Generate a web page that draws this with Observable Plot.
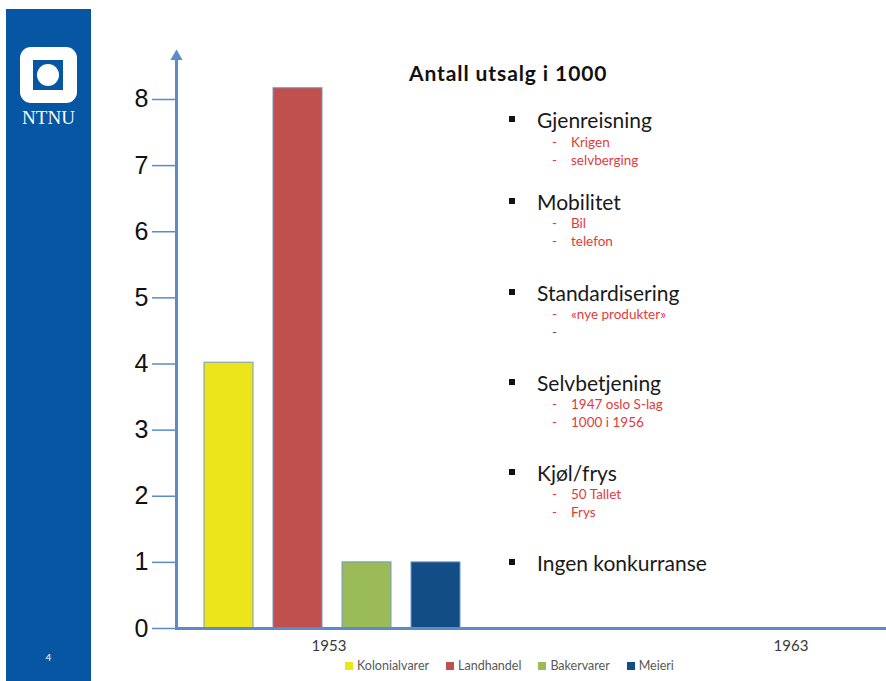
<!DOCTYPE html>
<html><head><meta charset="utf-8">
<script src="https://cdn.jsdelivr.net/npm/d3@7"></script>
<script src="https://cdn.jsdelivr.net/npm/@observablehq/plot@0.6"></script>
<style>
html,body{margin:0;padding:0;background:#fff;width:886px;height:681px;overflow:hidden;}
#root{position:relative;width:886px;height:681px;font-family:Lato,sans-serif;}
.abs{position:absolute;white-space:nowrap;line-height:1;}
.vc{transform:translateY(-50%);}
#chart{position:absolute;left:0;top:0;}
#legend{position:absolute;left:345px;top:649px;}
.lg-swatch{margin-right:17px !important;}
.lg-swatch svg{margin-right:4px !important;}
</style></head><body><div id="root"></div>
<script>
// ---- data ----
const years = ["1953", "1963"];
const series = ["Kolonialvarer", "Landhandel", "Bakervarer", "Meieri"];
const values1953 = [4.02, 8.17, 1.0, 1.0];
const seriesColors = ["#ebe519", "#c0504d", "#9bbb59", "#134d85"];
const yTicks = [0, 1, 2, 3, 4, 5, 6, 7, 8];
const chartTitle = "Antall utsalg i 1000";
const bulletHeads = ["Gjenreisning", "Mobilitet", "Standardisering", "Selvbetjening", "Kjøl/frys", "Ingen konkurranse"];
const bulletSubs = [["Krigen", "selvberging"], ["Bil", "telefon"], ["«nye produkter»", ""], ["1947 oslo S-lag", "1000 i 1956"], ["50 Tallet", "Frys"], []];
const pageNumber = "4";
const logoText = "NTNU";

const rows = series.map((s, i) => ({year: years[0], series: s, value: values1953[i]}));

const root = document.getElementById("root");
const axisColor = "#5b8bc8";
const slideBlue = "#0656a3";

// ---- slide chrome ----
function el(html) { const d = document.createElement("div"); d.innerHTML = html; const n = d.firstElementChild; root.appendChild(n); return n; }
el(`<div class="abs" style="left:6px;top:9px;width:85px;height:672px;background:${slideBlue}"></div>`);
el(`<div class="abs" style="left:20px;top:47px;width:57px;height:56px;background:#fff;border-radius:11px"></div>`);
el(`<div class="abs" style="left:33px;top:60px;width:30px;height:30px;background:${slideBlue}"></div>`);
el(`<div class="abs" style="left:37px;top:64px;width:22px;height:22px;background:#fff;border-radius:50%"></div>`);
el(`<div class="abs vc" style="left:6px;width:85px;top:117px;text-align:center;color:#fff;font-family:'Liberation Serif',serif;font-size:19px">${logoText}</div>`);
el(`<div class="abs vc" style="left:6px;width:85px;top:657px;text-align:center;color:#fff;font-size:10px">${pageNumber}</div>`);

// ---- chart ----
const chart = Plot.plot({
  width: 886,
  height: 681,
  marginLeft: 176,
  marginRight: 5,
  marginTop: 56,
  marginBottom: 53,
  style: {background: "transparent", fontFamily: "'Liberation Sans', Arial, sans-serif"},
  fx: {domain: years, range: [176, 949.4], paddingInner: 0.326, paddingOuter: 0, align: 0, axis: null},
  x: {domain: series, paddingInner: 0.293, paddingOuter: 0.394, align: 0.5, axis: null},
  y: {domain: [0, 8.65]},
  color: {domain: series, range: seriesColors},
  marks: [
    Plot.barY(rows, {fx: "year", x: "series", y: "value", fill: "series", stroke: "#6f99cf", strokeWidth: 1}),
    Plot.text(years, {fx: d => d, text: d => d, frameAnchor: "bottom", dy: 22, dx: -3, fontSize: 15, fill: "#3a3a3a", fontFamily: "Lato"}),
    Plot.axisY({ticks: yTicks, tickSize: 24, text: null, stroke: axisColor, strokeWidth: 1.5, label: null}),
    Plot.axisY({ticks: yTicks, tickSize: 0, tickPadding: 28, fontSize: 25, fill: "#111", label: null, tickFormat: d => String(d)}),
    Plot.frame({anchor: "left", facet: "super", stroke: axisColor, strokeWidth: 3}),
    Plot.frame({anchor: "bottom", facet: "super", stroke: axisColor, strokeWidth: 3}),
    Plot.dot([0], {frameAnchor: "top-left", facet: "super", symbol: "triangle", r: 4.5, fill: axisColor, stroke: "none", dy: 0}),
    Plot.dot([0], {frameAnchor: "bottom-right", facet: "super", symbol: "triangle", r: 4.5, fill: axisColor, stroke: "none", rotate: 90, dx: 1})
  ]
});
chart.id = "chart";
root.appendChild(chart);

// ---- legend ----
const legend = Plot.legend({
  color: {type: "ordinal", domain: series, range: seriesColors},
  swatchSize: 8,
  className: "lg",
  style: {fontFamily: "Lato", fontSize: "12.5px", color: "#595959"}
});
legend.id = "legend";
root.appendChild(legend);

// ---- title & bullets ----
el(`<div class="abs vc" style="left:409px;top:72px;font-weight:bold;font-size:21px;letter-spacing:0.9px;color:#111">${chartTitle}</div>`);
const headY = [119, 201, 292, 382, 472, 562];
const subOffsets = [23, 41];
bulletHeads.forEach((h, i) => {
  const y = headY[i];
  el(`<div class="abs" style="left:509px;top:${y - 3}px;width:6px;height:6px;background:#111"></div>`);
  el(`<div class="abs vc" style="left:537px;top:${y}px;font-size:21px;color:#1a1a1a">${h}</div>`);
  bulletSubs[i].forEach((s, j) => {
    const sy = y + subOffsets[j] + (i === 0 ? 1 : 0);
    const col = s === "" ? "#555" : "#e23b3b";
    el(`<div class="abs vc" style="left:552px;top:${sy}px;font-size:13.5px;color:${col}">-</div>`);
    if (s) el(`<div class="abs vc" style="left:571px;top:${sy}px;font-size:13.5px;color:${col}">${s}</div>`);
  });
});
</script>
</body></html>
